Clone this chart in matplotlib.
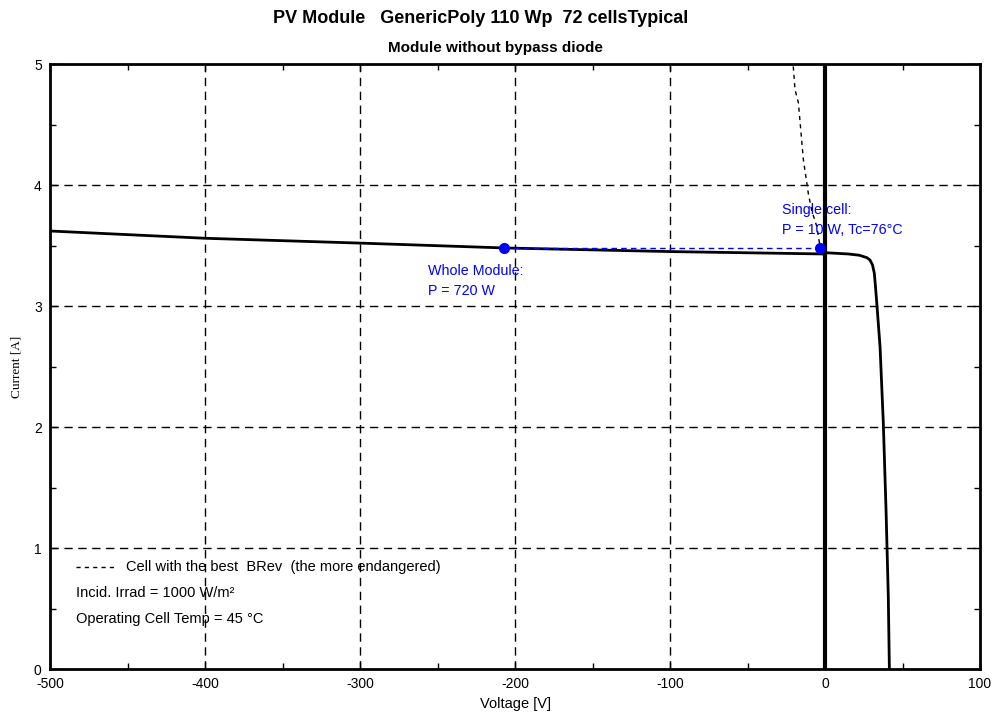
import numpy as np
import matplotlib.pyplot as plt

plt.rcParams['font.family'] = ['Liberation Sans', 'DejaVu Sans']
plt.rcParams['axes.unicode_minus'] = False

# Whole module I/V curve
mod_v = [-500, -400, -300, -207, -100, 0, 1.1, 15, 22, 26.9, 29.0, 30.6, 31.8, 32.6,
         33.4, 35.5, 37.6, 39.4, 40.8, 41.5]
mod_i = [3.62, 3.56, 3.52, 3.48, 3.45, 3.43, 3.44, 3.43, 3.42, 3.40, 3.38, 3.34, 3.27, 3.15,
         3.02, 2.66, 2.03, 1.29, 0.60, 0.0]

# Cell with the best BRev (reverse characteristic)
cell_v = [-20.5, -19.4, -17.2, -14.0, -11.8, -10.8, -8.6, -5.4, -3.2]
cell_i = [4.98, 4.79, 4.68, 4.21, 4.02, 3.93, 3.79, 3.66, 3.49]

# Operating points
op_v = [-207, -3]
op_i = [3.48, 3.48]

xticks = [-500, -400, -300, -200, -100, 0, 100]
yticks = [0, 1, 2, 3, 4, 5]

fig = plt.figure(figsize=(9.97, 7.13), dpi=100)
ax = fig.add_axes([0.0502, 0.0617, 0.9328, 0.8485])

ax.set_xlim(-500, 100)
ax.set_ylim(0, 5)
ax.set_xticks(xticks)
ax.set_yticks(yticks)
ax.set_xticks([-450, -350, -250, -150, -50, 50], minor=True)
ax.set_yticks([0.5, 1.5, 2.5, 3.5, 4.5], minor=True)
ax.tick_params(direction='in', length=5, width=1, labelsize=10, pad=6)
ax.tick_params(which='minor', direction='in', length=4, width=1)
ax.tick_params(top=True, right=True, which='both')
for s in ax.spines.values():
    s.set_linewidth(2)

# grid
for x in xticks[1:-1]:
    if x != 0:
        ax.axvline(x, color='black', ls=(0, (6, 4)), lw=1)
for y in yticks[1:-1]:
    ax.axhline(y, color='black', ls=(0, (6, 4)), lw=1)
ax.axvline(0, color='black', lw=3)

ax.plot(mod_v, mod_i, color='black', lw=2)
ax.plot(cell_v, cell_i, color='black', ls=(0, (3, 3)), lw=1)
ax.plot(op_v, op_i, color='blue', ls=(0, (4, 3)), lw=1)
ax.plot(op_v, op_i, 'o', color='blue', ms=7)

ax.text(-256, 3.35, 'Whole Module:\nP = 720 W', color='blue', fontsize=10.3,
        va='top', linespacing=1.55)
ax.text(-28, 3.85, 'Single cell:\nP = 10 W, Tc=76°C', color='blue', fontsize=10.3,
        va='top', linespacing=1.55)

ax.plot([-483, -459], [0.845, 0.845], color='black', ls=(0, (3, 3)), lw=1)
ax.text(-451, 0.845, 'Cell with the best  BRev  (the more endangered)',
        fontsize=10.5, va='center')
ax.text(-483, 0.63, 'Incid. Irrad = 1000 W/m²', fontsize=10.5, va='center')
ax.text(-483, 0.415, 'Operating Cell Temp = 45 °C', fontsize=10.5, va='center')

ax.set_xlabel('Voltage [V]', fontsize=10.5, labelpad=4)
ax.set_ylabel('Current [A]', fontsize=9.5, family='Liberation Serif', labelpad=8)

fig.text(0.482, 0.974, 'PV Module   GenericPoly 110 Wp  72 cellsTypical',
         ha='center', va='center', fontsize=13, fontweight='bold')
fig.text(0.497, 0.933, 'Module without bypass diode', ha='center', va='center',
         fontsize=11, fontweight='bold')

fig.savefig('out.png', dpi=100)
